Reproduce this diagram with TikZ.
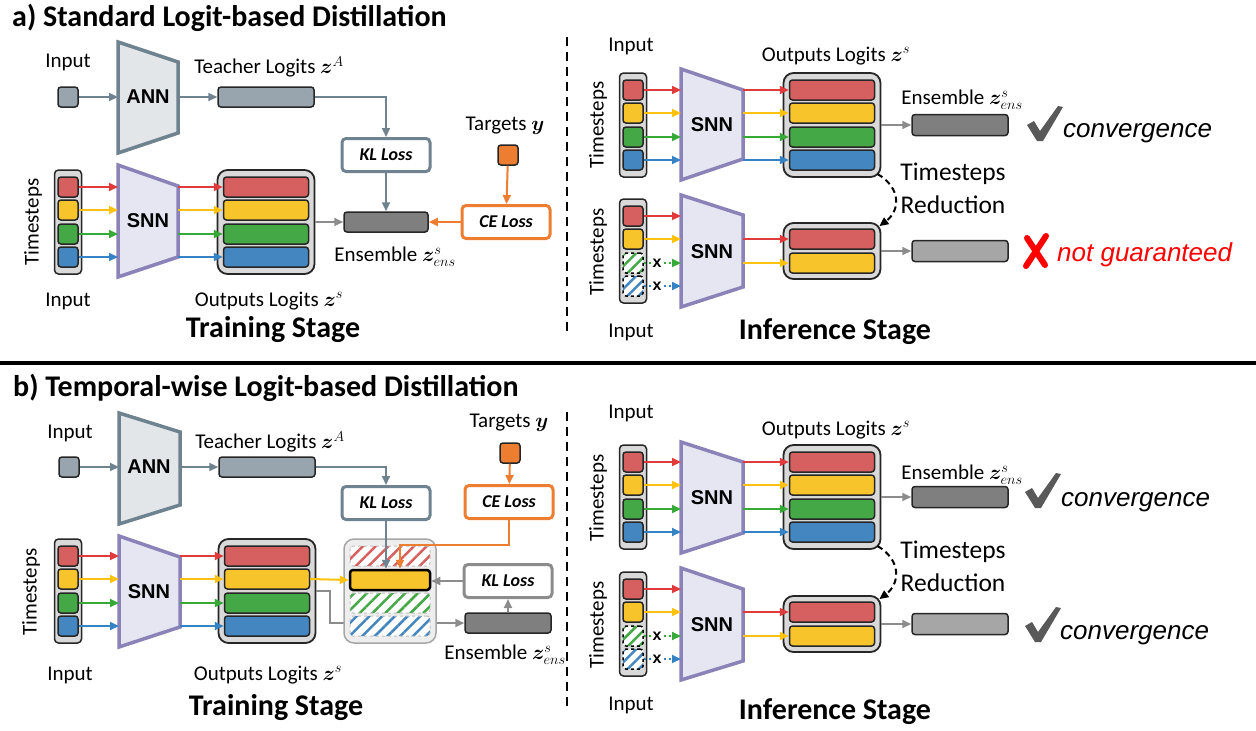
\documentclass[tikz,border=0pt]{standalone}
\usepackage{fontspec}
\setmainfont{Carlito}
\newfontfamily\arialfont{Liberation Sans}
\usepackage{amsmath,bm}
\usetikzlibrary{arrows.meta,patterns.meta}

\definecolor{slate}{HTML}{6F8290}
\definecolor{slatefill}{HTML}{98A5AE}
\definecolor{annfill}{HTML}{E2E6E9}
\definecolor{snnfill}{HTML}{E6E6F2}
\definecolor{snnline}{HTML}{8B82B8}
\definecolor{colfill}{HTML}{D9D9D9}
\definecolor{tred}{HTML}{D65F5F}
\definecolor{tyel}{HTML}{F7C52B}
\definecolor{tgrn}{HTML}{45A847}
\definecolor{tblu}{HTML}{4486BF}
\definecolor{ared}{HTML}{E03A3A}
\definecolor{ayel}{HTML}{FFC20E}
\definecolor{agrn}{HTML}{36A936}
\definecolor{ablu}{HTML}{3582C4}
\definecolor{lossorange}{HTML}{ED7D31}
\definecolor{ensdark}{HTML}{7F7F7F}
\definecolor{enslight}{HTML}{A6A6A6}
\definecolor{linkgray}{HTML}{8C8C8C}
\definecolor{checkgray}{HTML}{595959}
\definecolor{hatchfill}{HTML}{EEEEEE}
\definecolor{badred}{HTML}{FF0000}

\tikzset{
  lbl/.style={font=\fontsize{21}{25}\selectfont, inner sep=0pt},
  bigtext/.style={font=\fontsize{25.5}{30}\selectfont, inner sep=0pt},
  stagelbl/.style={font=\bfseries\fontsize{30}{36}\selectfont, inner sep=0pt},
  ttl/.style={font=\bfseries\fontsize{30}{36}\selectfont, inner sep=0pt, anchor=base west},
  verdict/.style={font=\arialfont\itshape\fontsize{26}{30}\selectfont, inner sep=0pt, anchor=base west},
  netname/.style={font=\arialfont\bfseries\fontsize{20}{24}\selectfont, inner sep=0pt},
  xmark/.style={font=\arialfont\bfseries\fontsize{16}{18}\selectfont, fill=white, inner sep=1pt},
  cell/.style={draw=black!85, line width=1.5pt, rounded corners=3pt, minimum width=20pt, minimum height=20pt, inner sep=0pt},
  skipcell/.style={cell, draw=black, dashed, preaction={fill=white}, preaction={solid, pattern={Lines[angle=45,distance=8pt,line width=2.5pt]}, pattern color=#1}},
  timecol/.style={draw=black!85, fill=colfill, line width=1.5pt, rounded corners=4pt, minimum width=27pt, minimum height=104pt, inner sep=0pt},
  logitbox/.style={draw=black!85, fill=colfill, line width=1.8pt, rounded corners=10pt, minimum width=97pt, minimum height=104pt, inner sep=0pt},
  hatchbox/.style={draw=enslight, fill=hatchfill, line width=1.5pt, rounded corners=10pt, minimum width=92pt, minimum height=104pt, inner sep=0pt},
  bar/.style={draw=black!85, line width=1.5pt, rounded corners=3pt, minimum width=85pt, minimum height=20pt, inner sep=0pt},
  hatchbar/.style={bar, draw=black!25, dashed, line width=1pt, minimum width=80pt, preaction={fill=white}, preaction={solid, pattern={Lines[angle=45,distance=9pt,line width=2.5pt]}, pattern color=#1}},
  lossbox/.style={fill=white, line width=3pt, rounded corners=4pt, minimum width=88pt, minimum height=33pt, inner sep=0pt, font=\bfseries\itshape\fontsize{18}{22}\selectfont},
  annshape/.style={draw=slate, fill=annfill, line width=3.5pt},
  snnshape/.style={draw=snnline, fill=snnfill, line width=3.5pt},
  arr/.style={-{Triangle[length=9pt,width=8pt]}, line width=2pt},
  dotarr/.style={arr, dash pattern=on 2pt off 3pt},
  reduce/.style={arr, black, dash pattern=on 6pt off 4pt}
}

\begin{document}
\begin{tikzpicture}[x=1pt,y=-1pt]
\useasboundingbox (0,0) rectangle (1256,731);

% a) training
\node[ttl] (atitle) at (12,26) {a) Standard Logit-based Distillation};
\node[lbl] (ainlbl) at (68,62) {Input};
\node[cell, fill=slatefill] (ain) at (68,97) {};
\draw[annshape] (118,42) -- (178,62) -- (178,133) -- (118,153) -- cycle;
\coordinate (aannL) at (118,97);
\coordinate (aannR) at (178,97);
\node[netname] (aann) at (148,97) {ANN};
\node[bar, fill=slatefill, minimum width=96pt] (ateach) at (266,97) {};
\node[lbl] (ateachlbl) at (269,67) {Teacher Logits $\bm{z}^{A}$};
\draw[arr, slate] (ain) -- (aannL);
\draw[arr, slate] (aannR) -- (ateach);
\node[lossbox, draw=slate] (akl) at (386,155) {KL Loss};
\draw[arr, slate] (ateach.east) -| (akl.north);
\node[bar, fill=ensdark, minimum width=84pt] (aens) at (386,222) {};
\draw[arr, slate] (akl) -- (aens);
\node[lbl] (aenslbl) at (395,257) {Ensemble $\bm{z}^{s}_{ens}$};
\node[lbl] (atgtlbl) at (505,126) {Targets $\bm{y}$};
\node[cell, fill=lossorange] (atgt) at (508,155) {};
\node[lossbox, draw=lossorange] (ace) at (506,222) {CE Loss};
\draw[arr, lossorange] (atgt) -- (ace);
\draw[arr, lossorange] (ace) -- (aens);

\node[lbl, rotate=90] (atslbl) at (33,222) {Timesteps};
\node[timecol] (acol) at (68,222) {};
\draw[snnshape] (118,165) -- (178,186) -- (178,257) -- (118,277) -- cycle;
\coordinate (asnnL) at (118,222);
\coordinate (asnnR) at (178,222);
\node[netname] (asnn) at (148,221) {SNN};
\node[logitbox] (aout) at (266,222) {};
\foreach \i/\y/\f/\a in {1/187/tred/ared, 2/210/tyel/ayel, 3/234/tgrn/agrn, 4/257/tblu/ablu}{
  \node[cell, fill=\f] (ac\i) at (68,\y) {};
  \node[bar, fill=\f] (ao\i) at (266,\y) {};
  \draw[arr, \a] (ac\i) -- (ac\i -| asnnL);
  \draw[arr, \a] (ac\i -| asnnR) -- (ao\i);
}
\draw[arr, linkgray] (aout) -- (aens);
\node[lbl] (aincap) at (68,301) {Input};
\node[lbl] (aoutlbl) at (269,301) {Outputs Logits $\bm{z}^{s}$};
\node[stagelbl] (atrain) at (273,330) {Training Stage};

\draw[line width=2pt, dash pattern=on 9pt off 6pt] (567,37) -- (567,333);

% a) inference
\node[lbl] (ailbl) at (631,46) {Input};
\node[lbl, rotate=90] (aits) at (598,125) {Timesteps};
\node[timecol] (aicol) at (633,125) {};
\draw[snnshape] (681,69) -- (743,90) -- (743,159) -- (681,180) -- cycle;
\coordinate (aisnnL) at (681,125);
\coordinate (aisnnR) at (743,125);
\node[netname] (aisnn) at (712,125) {SNN};
\node[logitbox] (aiout) at (832,125) {};
\foreach \i/\y/\f/\a in {1/90/tred/ared, 2/113/tyel/ayel, 3/137/tgrn/agrn, 4/160/tblu/ablu}{
  \node[cell, fill=\f] (aic\i) at (633,\y) {};
  \node[bar, fill=\f] (aio\i) at (832,\y) {};
  \draw[arr, \a] (aic\i) -- (aic\i -| aisnnL);
  \draw[arr, \a] (aic\i -| aisnnR) -- (aio\i);
}
\node[lbl] (aioutlbl) at (836,56) {Outputs Logits $\bm{z}^{s}$};
\node[bar, fill=ensdark, minimum width=96pt, minimum height=21pt] (aiens) at (960,125) {};
\draw[arr, linkgray] (aiout) -- (aiens);
\node[lbl] (aienslbl) at (962,100) {Ensemble $\bm{z}^{s}_{ens}$};
\fill[checkgray, shift={(1027,106)}] (0,19) -- (7,15) -- (13,25) -- (31,0) -- (36,1) -- (16,35) -- (10,35) -- cycle;
\node[verdict] (aiok) at (1063,137) {convergence};

\node[lbl, rotate=90] (ajts) at (598,252) {Timesteps};
\node[timecol] (ajcol) at (633,251) {};
\draw[snnshape] (681,195) -- (743,215) -- (743,287) -- (681,307) -- cycle;
\coordinate (ajsnnL) at (681,251);
\coordinate (ajsnnR) at (743,251);
\node[netname] (ajsnn) at (712,252) {SNN};
\node[logitbox, minimum height=56pt] (ajout) at (832,251) {};
\node[cell, fill=tred] (ajc1) at (633,216) {};
\node[cell, fill=tyel] (ajc2) at (633,239) {};
\node[skipcell=tgrn] (ajc3) at (633,263) {};
\node[skipcell=tblu] (ajc4) at (633,286) {};
\node[bar, fill=tred] (ajo1) at (832,239) {};
\node[bar, fill=tyel] (ajo2) at (832,263) {};
\draw[arr, ared] (ajc1) -- (ajc1 -| ajsnnL);
\draw[arr, ayel] (ajc2) -- (ajc2 -| ajsnnL);
\draw[dotarr, agrn] (ajc3) -- (ajc3 -| ajsnnL);
\draw[dotarr, ablu] (ajc4) -- (ajc4 -| ajsnnL);
\node[xmark] (ajx3) at (657,263) {x};
\node[xmark] (ajx4) at (657,286) {x};
\draw[arr, ared] (ajo1 -| ajsnnR) -- (ajo1);
\draw[arr, ayel] (ajo2 -| ajsnnR) -- (ajo2);
\node[bar, fill=enslight, minimum width=96pt, minimum height=21pt] (ajens) at (960,251) {};
\draw[arr, linkgray] (ajout) -- (ajens);
\draw[badred, line width=6pt, line cap=round] (1027,238) -- (1045,265) (1046,236) -- (1026,266);
\node[verdict, text=badred] (ajbad) at (1057,261) {not guaranteed};
\draw[reduce] ([shift={(-4,-4)}]aiout.south east) .. controls +(25,15) and +(20,-15) .. ([shift={(-2,4)}]ajout.north east);
\node[bigtext] (aired1) at (953,174) {Timesteps};
\node[bigtext] (aired2) at (953,205) {Reduction};
\node[lbl] (ajincap) at (631,332) {Input};
\node[stagelbl] (ainf) at (835,332) {Inference Stage};

\draw[line width=4pt] (0,363) -- (1256,363);

% b) training
\node[ttl] (btitle) at (13,396) {b) Temporal-wise Logit-based Distillation};
\node[lbl] (binlbl) at (70,433) {Input};
\node[cell, fill=slatefill] (bin) at (69,467) {};
\draw[annshape] (119,413) -- (180,432) -- (180,505) -- (119,524) -- cycle;
\coordinate (bannL) at (119,467);
\coordinate (bannR) at (180,467);
\node[netname] (bann) at (149,467) {ANN};
\node[bar, fill=slatefill, minimum width=96pt] (bteach) at (267,467) {};
\node[lbl] (bteachlbl) at (270,442) {Teacher Logits $\bm{z}^{A}$};
\draw[arr, slate] (bin) -- (bannL);
\draw[arr, slate] (bannR) -- (bteach);
\node[lossbox, draw=slate] (bkl) at (386,503) {KL Loss};
\draw[arr, slate] (bteach.east) -| (bkl.north);
\node[lbl] (btgtlbl) at (509,423) {Targets $\bm{y}$};
\node[cell, fill=lossorange] (btgt) at (510,453) {};
\node[lossbox, draw=lossorange] (bce) at (509,502) {CE Loss};
\draw[arr, lossorange] (btgt) -- (bce);

\node[lbl, rotate=90] (btslbl) at (31,592) {Timesteps};
\node[timecol] (bcol) at (68,591) {};
\draw[snnshape] (119,536) -- (180,557) -- (180,627) -- (119,647) -- cycle;
\coordinate (bsnnL) at (119,591);
\coordinate (bsnnR) at (180,591);
\node[netname] (bsnn) at (149,592) {SNN};
\node[logitbox] (bout) at (267,591) {};
\foreach \i/\y/\f/\a in {1/556/tred/ared, 2/579/tyel/ayel, 3/603/tgrn/agrn, 4/626/tblu/ablu}{
  \node[cell, fill=\f] (bc\i) at (68,\y) {};
  \node[bar, fill=\f] (bo\i) at (267,\y) {};
  \draw[arr, \a] (bc\i) -- (bc\i -| bsnnL);
  \draw[arr, \a] (bc\i -| bsnnR) -- (bo\i);
}
\node[lossbox, draw=linkgray] (bkl2) at (508,581) {KL Loss};
\node[bar, fill=ensdark, minimum width=86pt] (bens) at (508,623) {};
\draw[arr, linkgray] (bout.east) -- ++(14,0) |- (bens.west);
\node[hatchbox] (bhat) at (390,591) {};
\node[hatchbar=tred] (bh1) at (390,556) {};
\node[bar, fill=tyel, line width=2.5pt, draw=black, minimum width=80pt] (bh2) at (390,580) {};
\node[hatchbar=tgrn] (bh3) at (390,603) {};
\node[hatchbar=tblu] (bh4) at (390,626) {};
\draw[arr, ayel] (bo2.east) -- (bh2.west);
\draw[arr, slate] (bkl.south) -- (bkl.south |- bh2.north);
\coordinate (bceturn) at (509,545);
\draw[arr, lossorange] (bce.south) -- (bceturn) -| ([xshift=10pt]bh2.north);
\draw[arr, linkgray] (bens) -- (bkl2);
\draw[arr, linkgray] (bkl2.west) -- (bkl2.west -| bh2.east);
\node[lbl] (benslbl) at (505,655) {Ensemble $\bm{z}^{s}_{ens}$};
\node[lbl] (bincap) at (70,675) {Input};
\node[lbl] (boutlbl) at (268,675) {Outputs Logits $\bm{z}^{s}$};
\node[stagelbl] (btrain) at (276,708) {Training Stage};

\draw[line width=2pt, dash pattern=on 9pt off 6pt] (567,412) -- (567,707);

% b) inference
\node[lbl] (bilbl) at (631,413) {Input};
\node[lbl, rotate=90] (bits) at (598,498) {Timesteps};
\node[timecol] (bicol) at (633,497) {};
\draw[snnshape] (681,442) -- (743,462) -- (743,533) -- (681,553) -- cycle;
\coordinate (bisnnL) at (681,497);
\coordinate (bisnnR) at (743,497);
\node[netname] (bisnn) at (712,498) {SNN};
\node[logitbox] (biout) at (832,497) {};
\foreach \i/\y/\f/\a in {1/462/tred/ared, 2/485/tyel/ayel, 3/509/tgrn/agrn, 4/532/tblu/ablu}{
  \node[cell, fill=\f] (bic\i) at (633,\y) {};
  \node[bar, fill=\f] (bio\i) at (832,\y) {};
  \draw[arr, \a] (bic\i) -- (bic\i -| bisnnL);
  \draw[arr, \a] (bic\i -| bisnnR) -- (bio\i);
}
\node[lbl] (bioutlbl) at (836,430) {Outputs Logits $\bm{z}^{s}$};
\node[bar, fill=ensdark, minimum width=96pt, minimum height=21pt] (biens) at (960,497) {};
\draw[arr, linkgray] (biout) -- (biens);
\node[lbl] (bienslbl) at (962,475) {Ensemble $\bm{z}^{s}_{ens}$};
\fill[checkgray, shift={(1025,473)}] (0,19) -- (7,15) -- (13,25) -- (31,0) -- (36,1) -- (16,35) -- (10,35) -- cycle;
\node[verdict] (biok) at (1061,506) {convergence};

\node[lbl, rotate=90] (bjts) at (598,625) {Timesteps};
\node[timecol] (bjcol) at (633,624) {};
\draw[snnshape] (681,568) -- (743,589) -- (743,661) -- (681,680) -- cycle;
\coordinate (bjsnnL) at (681,624);
\coordinate (bjsnnR) at (743,624);
\node[netname] (bjsnn) at (712,625) {SNN};
\node[logitbox, minimum height=56pt] (bjout) at (832,624) {};
\node[cell, fill=tred] (bjc1) at (633,589) {};
\node[cell, fill=tyel] (bjc2) at (633,612) {};
\node[skipcell=tgrn] (bjc3) at (633,636) {};
\node[skipcell=tblu] (bjc4) at (633,659) {};
\node[bar, fill=tred] (bjo1) at (832,612) {};
\node[bar, fill=tyel] (bjo2) at (832,636) {};
\draw[arr, ared] (bjc1) -- (bjc1 -| bjsnnL);
\draw[arr, ayel] (bjc2) -- (bjc2 -| bjsnnL);
\draw[dotarr, agrn] (bjc3) -- (bjc3 -| bjsnnL);
\draw[dotarr, ablu] (bjc4) -- (bjc4 -| bjsnnL);
\node[xmark] (bjx3) at (657,636) {x};
\node[xmark] (bjx4) at (657,659) {x};
\draw[arr, ared] (bjo1 -| bjsnnR) -- (bjo1);
\draw[arr, ayel] (bjo2 -| bjsnnR) -- (bjo2);
\node[bar, fill=enslight, minimum width=96pt, minimum height=21pt] (bjens) at (960,624) {};
\draw[arr, linkgray] (bjout) -- (bjens);
\fill[checkgray, shift={(1025,607)}] (0,19) -- (7,15) -- (13,25) -- (31,0) -- (36,1) -- (16,35) -- (10,35) -- cycle;
\node[verdict] (bjok) at (1060,639) {convergence};
\draw[reduce] ([shift={(-4,-4)}]biout.south east) .. controls +(25,15) and +(20,-15) .. ([shift={(-2,4)}]bjout.north east);
\node[bigtext] (bired1) at (953,552) {Timesteps};
\node[bigtext] (bired2) at (953,583) {Reduction};
\node[lbl] (bjincap) at (631,705) {Input};
\node[stagelbl] (binf) at (835,712) {Inference Stage};
\end{tikzpicture}
\end{document}
